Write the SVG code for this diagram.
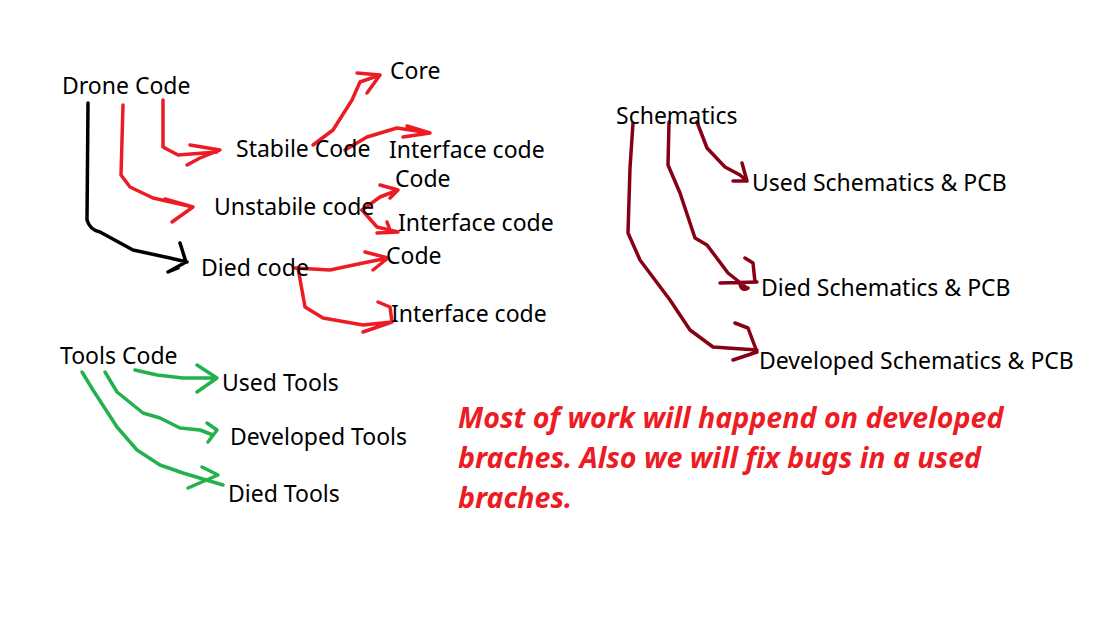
<svg xmlns="http://www.w3.org/2000/svg" width="1118" height="620" viewBox="0 0 1118 620">
<style>
.t{font-family:"Noto Sans","Open Sans",sans-serif;font-size:23px;fill:#000}
.note{font-family:"Noto Sans","Open Sans",sans-serif;font-size:28.6px;font-weight:bold;font-style:italic;fill:#ED1C24}
.c{fill:none;stroke-width:3.5;stroke-linecap:round;stroke-linejoin:round}
.red{stroke:#ED1C24}.blk{stroke:#000}.grn{stroke:#22B14C}.drk{stroke:#880015}
</style>
<rect width="1118" height="620" fill="#fff"/>
<g id="connectors">
<path class="c blk" d="M88,103 L87,220 Q90,230 100,232 L133,250 L170,258 L187,262 M180,243 L186,262 L168,272 L178,268"/>
<path class="c red" d="M163,100 L163,147 L178,155 L217,152 M190,145 L220,150 L200,158 L187,165"/>
<path class="c red" d="M123,105 L121,175 L130,187 L153,198 L193,207 M165,199 L193,207 L172,222"/>
<path class="c red" d="M313,145 L333,130 L352,100 L360,82 L380,75 M357,73 L380,75 L367,93"/>
<path class="c red" d="M345,150 L367,137 L397,128 L430,133 M407,126 L430,133 L403,137"/>
<path class="c red" d="M362,210 L380,197 L398,190 M380,185 L398,190 L390,198"/>
<path class="c red" d="M362,210 L377,227 L398,232 M387,222 L390,230 M377,233 L398,232"/>
<path class="c red" d="M295,268 L330,270 L363,263 L388,258 M365,252 L388,258 L373,270"/>
<path class="c red" d="M298,268 L305,307 L323,318 L363,325 L392,322 M378,302 L390,307 L392,322 L363,332"/>
<path class="c drk" d="M697,122 L707,148 L725,167 L740,175 L747,181 M742,163 L747,181 L733,181"/>
<path class="c drk" d="M669,122 L668,165 L680,193 L695,238 L707,245 L728,273 L747,288 M745,258 L753,263 L755,282 M720,283 L757,282 M740,284 Q742,292 748,288"/>
<path class="c drk" d="M633,123 L630,168 L628,233 L640,260 L670,300 L690,330 L713,347 L757,350 M735,323 L748,328 L757,352 L733,360"/>
<path class="c grn" d="M135,370 L157,375 L183,378 L217,378 M197,365 L217,378 L197,392"/>
<path class="c grn" d="M105,372 L117,392 L143,413 L160,418 L180,428 L200,430 L213,435 M207,423 L217,430 L208,442"/>
<path class="c grn" d="M82,372 L93,390 L117,427 L137,450 L160,465 L183,473 L223,485 M202,467 L218,475 L188,488"/>
</g>
<g id="drone-code"><text class="t" x="62" y="94">Drone Code</text></g>
<g id="stabile-code"><text class="t" x="236" y="157">Stabile Code</text></g>
<g id="core"><text class="t" x="390" y="79">Core</text></g>
<g id="stabile-interface"><text class="t" x="389" y="158">Interface code</text></g>
<g id="unstabile-code"><text class="t" x="214" y="215">Unstabile code</text></g>
<g id="unstabile-core"><text class="t" x="395" y="187">Code</text></g>
<g id="unstabile-interface"><text class="t" x="398" y="231">Interface code</text></g>
<g id="died-code"><text class="t" x="201" y="276">Died code</text></g>
<g id="died-core"><text class="t" x="386" y="264">Code</text></g>
<g id="died-interface"><text class="t" x="391" y="322">Interface code</text></g>
<g id="schematics"><text class="t" x="616" y="124">Schematics</text></g>
<g id="used-sch"><text class="t" x="752" y="191">Used Schematics &amp; PCB</text></g>
<g id="died-sch"><text class="t" x="761" y="296">Died Schematics &amp; PCB</text></g>
<g id="dev-sch"><text class="t" x="759" y="369">Developed Schematics &amp; PCB</text></g>
<g id="tools-code"><text class="t" x="60" y="364">Tools Code</text></g>
<g id="used-tools"><text class="t" x="222" y="391">Used Tools</text></g>
<g id="dev-tools"><text class="t" x="230" y="445">Developed Tools</text></g>
<g id="died-tools"><text class="t" x="228" y="502">Died Tools</text></g>
<g id="note">
<text class="note" x="458" y="428">Most of work will happend on developed</text>
<text class="note" x="458" y="468">braches. Also we will fix bugs in a used</text>
<text class="note" x="458" y="508">braches.</text>
</g>
</svg>
